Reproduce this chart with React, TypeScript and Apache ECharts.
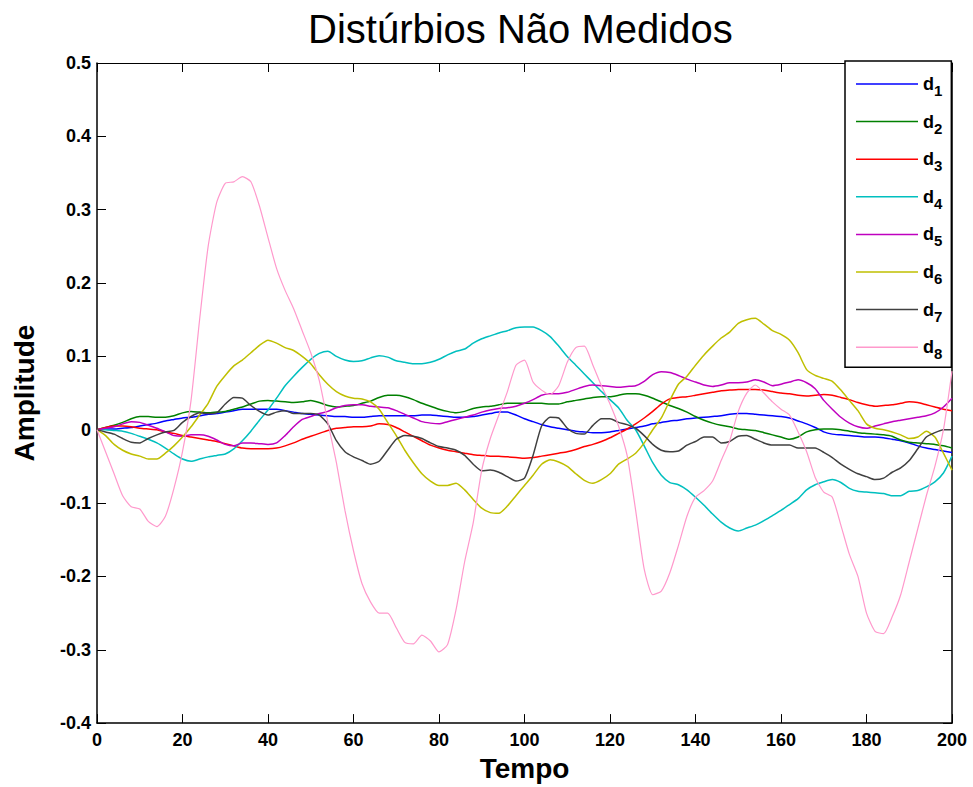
import React, { useEffect, useRef } from "react";
import * as echarts from "echarts";

// Tempo (time) base shared by every disturbance signal: 0, 2, 4, ... 200
const tempo: number[] = Array.from({ length: 101 }, (_, i) => i * 2);

const seriesNames = ["d1", "d2", "d3", "d4", "d5", "d6", "d7", "d8"];
const seriesColors = [
  "#0000ff",
  "#008000",
  "#ff0000",
  "#00bfbf",
  "#bf00bf",
  "#bfbf00",
  "#404040",
  "#ff99cc",
];

const d1 = [
  0, 0.001, 0.001, 0.002, 0.003, 0.005, 0.007, 0.009, 0.012, 0.014, 0.016, 0.017, 0.019, 0.021, 0.022, 0.024,
  0.026, 0.028, 0.028, 0.028, 0.028, 0.028, 0.026, 0.024, 0.022, 0.021, 0.02, 0.019, 0.018, 0.018, 0.017,
  0.017, 0.018, 0.019, 0.019, 0.019, 0.019, 0.019, 0.02, 0.02, 0.019, 0.018, 0.017, 0.017, 0.018, 0.02,
  0.022, 0.024, 0.024, 0.02, 0.015, 0.011, 0.007, 0.004, 0.002, 0, -0.002, -0.003, -0.004, -0.004, -0.003,
  -0.001, 0.001, 0.003, 0.005, 0.008, 0.01, 0.012, 0.013, 0.015, 0.016, 0.017, 0.018, 0.019, 0.021, 0.022,
  0.022, 0.021, 0.02, 0.019, 0.018, 0.016, 0.012, 0.008, 0.003, -0.003, -0.006, -0.007, -0.008, -0.009,
  -0.01, -0.01, -0.011, -0.013, -0.015, -0.018, -0.022, -0.025, -0.027, -0.029, -0.031,
];

const d2 = [
  0, 0.003, 0.006, 0.01, 0.015, 0.018, 0.018, 0.017, 0.017, 0.019, 0.023, 0.025, 0.024, 0.023, 0.024, 0.025,
  0.028, 0.031, 0.035, 0.039, 0.04, 0.039, 0.038, 0.037, 0.038, 0.04, 0.037, 0.033, 0.031, 0.032, 0.033,
  0.036, 0.039, 0.044, 0.047, 0.047, 0.045, 0.041, 0.036, 0.032, 0.028, 0.025, 0.023, 0.025, 0.029, 0.031,
  0.032, 0.034, 0.036, 0.036, 0.036, 0.036, 0.036, 0.035, 0.035, 0.038, 0.04, 0.042, 0.044, 0.045, 0.045,
  0.047, 0.049, 0.049, 0.047, 0.043, 0.038, 0.033, 0.029, 0.024, 0.018, 0.013, 0.009, 0.006, 0.004, 0.001,
  0, -0.001, -0.004, -0.007, -0.01, -0.013, -0.01, -0.003, 0, 0.001, 0.001, 0, -0.002, -0.004, -0.005,
  -0.006, -0.007, -0.009, -0.014, -0.017, -0.018, -0.019, -0.02, -0.022, -0.025,
];

const d3 = [
  0, 0.003, 0.005, 0.005, 0.004, 0.002, 0.001, 0, -0.003, -0.005, -0.008, -0.01, -0.012, -0.014, -0.016,
  -0.019, -0.022, -0.025, -0.026, -0.026, -0.026, -0.025, -0.022, -0.018, -0.013, -0.009, -0.005, -0.001,
  0.002, 0.003, 0.004, 0.004, 0.005, 0.008, 0.007, 0.003, -0.003, -0.009, -0.015, -0.021, -0.025, -0.028,
  -0.03, -0.032, -0.034, -0.035, -0.036, -0.036, -0.037, -0.038, -0.039, -0.038, -0.036, -0.034, -0.032,
  -0.03, -0.027, -0.023, -0.02, -0.016, -0.011, -0.005, 0.001, 0.008, 0.016, 0.025, 0.035, 0.042, 0.044,
  0.045, 0.047, 0.049, 0.051, 0.053, 0.054, 0.055, 0.055, 0.055, 0.054, 0.052, 0.05, 0.049, 0.047, 0.046,
  0.047, 0.048, 0.047, 0.044, 0.041, 0.037, 0.034, 0.032, 0.033, 0.034, 0.036, 0.038, 0.037, 0.034, 0.031,
  0.028, 0.026,
];

const d4 = [
  0, 0, -0.001, -0.002, -0.005, -0.009, -0.013, -0.018, -0.025, -0.033, -0.04, -0.043, -0.04, -0.037,
  -0.035, -0.033, -0.026, -0.015, -0.002, 0.013, 0.027, 0.043, 0.06, 0.073, 0.085, 0.096, 0.104, 0.107, 0.1,
  0.095, 0.093, 0.094, 0.098, 0.101, 0.099, 0.094, 0.092, 0.09, 0.09, 0.092, 0.096, 0.102, 0.107, 0.11, 0.118,
  0.124, 0.128, 0.132, 0.135, 0.139, 0.14, 0.14, 0.135, 0.127, 0.114, 0.1, 0.088, 0.076, 0.064, 0.052, 0.041,
  0.03, 0.013, 0, -0.022, -0.045, -0.062, -0.072, -0.075, -0.082, -0.092, -0.103, -0.115, -0.126, -0.134,
  -0.138, -0.134, -0.13, -0.124, -0.117, -0.11, -0.102, -0.094, -0.082, -0.075, -0.071, -0.068, -0.072,
  -0.08, -0.084, -0.085, -0.086, -0.087, -0.09, -0.09, -0.084, -0.083, -0.078, -0.071, -0.059, -0.036,
];

const d5 = [
  0, 0.002, 0.004, 0.008, 0.011, 0.01, 0.006, 0.002, -0.003, -0.008, -0.009, -0.007, -0.007, -0.009, -0.014,
  -0.02, -0.022, -0.018, -0.018, -0.019, -0.02, -0.018, -0.008, 0.004, 0.014, 0.018, 0.022, 0.025, 0.03,
  0.033, 0.034, 0.034, 0.032, 0.031, 0.03, 0.026, 0.021, 0.016, 0.011, 0.009, 0.008, 0.011, 0.014, 0.017,
  0.02, 0.024, 0.027, 0.029, 0.03, 0.032, 0.036, 0.041, 0.047, 0.049, 0.049, 0.051, 0.055, 0.059, 0.061, 0.06,
  0.059, 0.058, 0.059, 0.06, 0.066, 0.075, 0.079, 0.078, 0.074, 0.069, 0.065, 0.061, 0.059, 0.061, 0.064,
  0.064, 0.065, 0.068, 0.065, 0.06, 0.062, 0.065, 0.068, 0.064, 0.056, 0.04, 0.028, 0.017, 0.009, 0.004,
  0.002, 0.005, 0.008, 0.011, 0.013, 0.015, 0.017, 0.019, 0.023, 0.031, 0.043,
];

const d6 = [
  0, -0.008, -0.02, -0.028, -0.033, -0.036, -0.04, -0.04, -0.032, -0.022, -0.01, 0.004, 0.02, 0.036, 0.059,
  0.074, 0.087, 0.095, 0.105, 0.115, 0.122, 0.118, 0.112, 0.108, 0.1, 0.09, 0.075, 0.062, 0.052, 0.046,
  0.043, 0.042, 0.038, 0.028, 0.01, -0.008, -0.028, -0.045, -0.06, -0.07, -0.076, -0.076, -0.073, -0.082,
  -0.095, -0.107, -0.113, -0.114, -0.104, -0.09, -0.076, -0.062, -0.047, -0.041, -0.044, -0.05, -0.06,
  -0.069, -0.073, -0.068, -0.06, -0.047, -0.04, -0.032, -0.018, 0, 0.016, 0.04, 0.062, 0.073, 0.088, 0.102,
  0.114, 0.125, 0.133, 0.145, 0.15, 0.152, 0.144, 0.135, 0.13, 0.122, 0.105, 0.082, 0.074, 0.07, 0.066,
  0.054, 0.04, 0.026, 0.008, 0.002, 0, -0.003, -0.007, -0.012, -0.01, -0.002, -0.01, -0.032, -0.055,
];

const d7 = [
  0, -0.003, -0.006, -0.012, -0.017, -0.018, -0.012, -0.007, -0.003, -0.001, 0.01, 0.018, 0.023, 0.022,
  0.023, 0.035, 0.044, 0.043, 0.033, 0.025, 0.02, 0.024, 0.026, 0.022, 0.022, 0.022, 0.02, 0.008, -0.015,
  -0.03, -0.037, -0.042, -0.047, -0.043, -0.028, -0.013, -0.008, -0.009, -0.012, -0.018, -0.023, -0.025,
  -0.028, -0.035, -0.047, -0.056, -0.055, -0.058, -0.064, -0.07, -0.066, -0.035, 0.005, 0.017, 0.016, 0.002,
  -0.005, -0.006, 0.006, 0.015, 0.015, 0.01, 0.007, 0.002, -0.008, -0.02, -0.028, -0.03, -0.029, -0.021,
  -0.016, -0.01, -0.01, -0.018, -0.016, -0.009, -0.008, -0.013, -0.018, -0.021, -0.021, -0.021, -0.025,
  -0.025, -0.025, -0.031, -0.038, -0.047, -0.054, -0.06, -0.064, -0.068, -0.066, -0.058, -0.052, -0.042,
  -0.026, -0.01, -0.004, 0, 0,
];

const d8 = [
  0, -0.03, -0.06, -0.09, -0.105, -0.108, -0.125, -0.132, -0.118, -0.08, -0.03, 0.04, 0.15, 0.25, 0.31,
  0.336, 0.338, 0.345, 0.338, 0.305, 0.262, 0.22, 0.19, 0.165, 0.135, 0.105, 0.067, 0.01, -0.045, -0.11,
  -0.165, -0.21, -0.235, -0.25, -0.25, -0.27, -0.29, -0.292, -0.28, -0.288, -0.303, -0.293, -0.245, -0.18,
  -0.127, -0.055, -0.012, 0.02, 0.052, 0.088, 0.095, 0.065, 0.054, 0.048, 0.06, 0.092, 0.112, 0.114, 0.088,
  0.06, 0.035, 0.005, -0.035, -0.11, -0.19, -0.225, -0.22, -0.195, -0.158, -0.118, -0.092, -0.083, -0.07,
  -0.042, -0.015, 0.025, 0.05, 0.061, 0.05, 0.038, 0.028, 0.02, -0.003, -0.03, -0.065, -0.085, -0.092, -0.13,
  -0.17, -0.2, -0.25, -0.275, -0.278, -0.255, -0.225, -0.18, -0.135, -0.09, -0.05, 0, 0.08,
];

const signals = [d1, d2, d3, d4, d5, d6, d7, d8];

const FONT = "Liberation Sans, Arial, Helvetica, sans-serif";

export default function App() {
  const ref = useRef<HTMLDivElement>(null);

  useEffect(() => {
    if (!ref.current) return;
    const chart = echarts.init(ref.current, undefined, { renderer: "svg" });

    const tickFmt = (v: number) => {
      const r = Math.round(v * 10) / 10;
      return r === 0 ? "0" : String(r);
    };

    const frameLine = { show: true, onZero: false, lineStyle: { color: "#000", width: 1.5 } };
    const innerTicks = { show: true, inside: true, length: 9, lineStyle: { color: "#000", width: 1 } };

    chart.setOption({
      animation: false,
      backgroundColor: "#ffffff",
      title: {
        text: "Distúrbios Não Medidos",
        left: 303,
        top: 4,
        textStyle: { fontFamily: FONT, fontSize: 40, fontWeight: "normal", color: "#000" },
      },
      grid: { left: 97, right: 21, top: 63, bottom: 63, containLabel: false },
      legend: {
        orient: "vertical",
        left: 845,
        top: 61,
        padding: [14, 9, 6, 11],
        itemWidth: 62,
        itemHeight: 1.5,
        itemGap: 14.6,
        borderColor: "#000",
        borderWidth: 1.5,
        backgroundColor: "#fff",
        icon: "rect",
        data: seriesNames,
        formatter: (name: string) => `{d|d}{s|${name.slice(1)}}`,
        textStyle: {
          color: "#000",
          fontFamily: FONT,
          rich: {
            d: { fontFamily: FONT, fontSize: 18, fontWeight: "bold", color: "#000" },
            s: { fontFamily: FONT, fontSize: 15, fontWeight: "bold", color: "#000", padding: [13, 0, 0, 0] },
          },
        },
      },
      xAxis: [
        {
          type: "value",
          min: 0,
          max: 200,
          interval: 20,
          position: "bottom",
          name: "Tempo",
          nameLocation: "middle",
          nameGap: 29,
          nameTextStyle: { fontFamily: FONT, fontSize: 28, fontWeight: "bold", color: "#000" },
          axisLine: frameLine,
          axisTick: innerTicks,
          axisLabel: { margin: 8, fontFamily: FONT, fontSize: 18, fontWeight: "bold", color: "#000" },
          splitLine: { show: false },
        },
        {
          type: "value",
          min: 0,
          max: 200,
          interval: 20,
          position: "top",
          axisLine: { show: true, onZero: false, lineStyle: { color: "#000", width: 1 } },
          axisTick: innerTicks,
          axisLabel: { show: false },
          splitLine: { show: false },
        },
      ],
      yAxis: [
        {
          type: "value",
          min: -0.4,
          max: 0.5,
          interval: 0.1,
          position: "left",
          name: "Amplitude",
          nameLocation: "middle",
          nameGap: 59,
          nameTextStyle: { fontFamily: FONT, fontSize: 28, fontWeight: "bold", color: "#000" },
          axisLine: frameLine,
          axisTick: innerTicks,
          axisLabel: {
            margin: 6,
            fontFamily: FONT,
            fontSize: 18,
            fontWeight: "bold",
            color: "#000",
            formatter: tickFmt,
          },
          splitLine: { show: false },
        },
        {
          type: "value",
          min: -0.4,
          max: 0.5,
          interval: 0.1,
          position: "right",
          axisLine: frameLine,
          axisTick: innerTicks,
          axisLabel: { show: false },
          splitLine: { show: false },
        },
      ],
      series: signals.map((vals, i) => ({
        name: seriesNames[i],
        type: "line",
        xAxisIndex: 0,
        yAxisIndex: 0,
        symbol: "none",
        showSymbol: false,
        smooth: 0.2,
        color: seriesColors[i],
        itemStyle: { color: seriesColors[i] },
        lineStyle: { color: seriesColors[i], width: i === 7 ? 1.2 : 1.5 },
        data: tempo.map((t, k) => [t, vals[k]]),
      })),
    });

    return () => chart.dispose();
  }, []);

  return (
    <div
      ref={ref}
      style={{ position: "absolute", left: 0, top: 0, width: 973, height: 787, background: "#fff" }}
    />
  );
}
